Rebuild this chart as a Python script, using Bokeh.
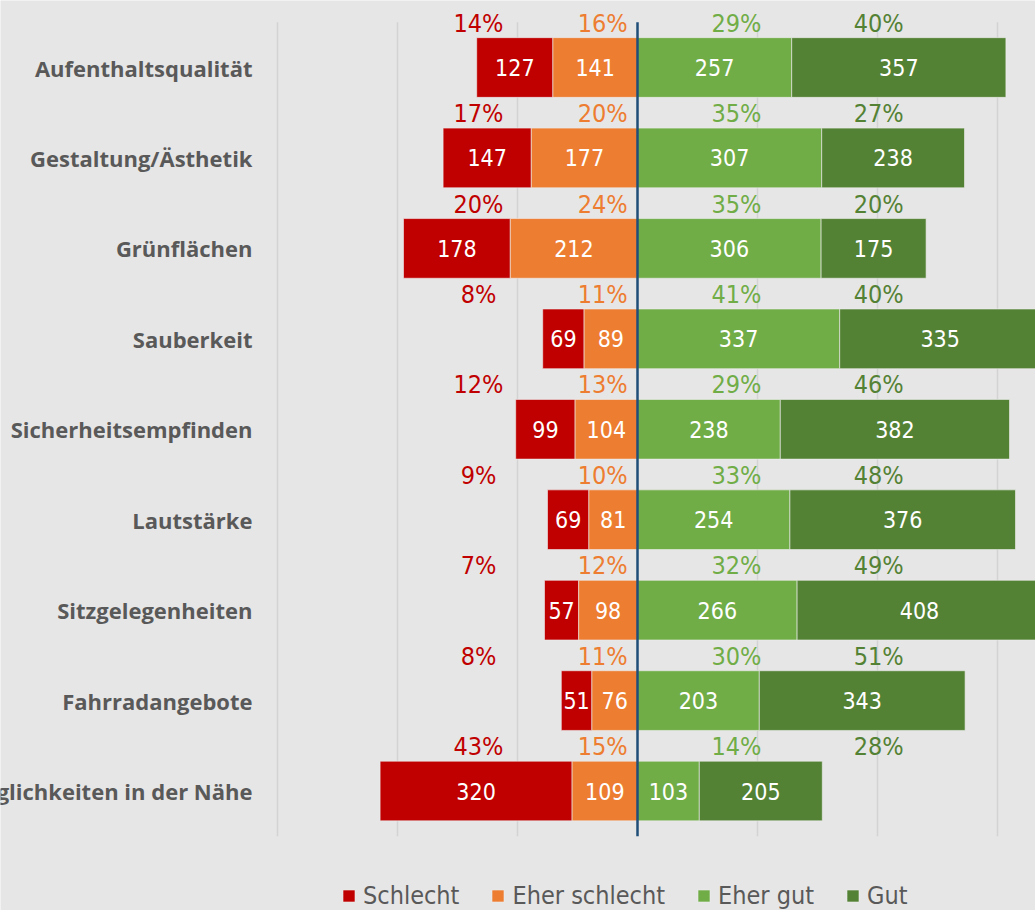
import numpy as np
from bokeh.plotting import figure
from bokeh.models import Range1d, Legend, LegendItem
from bokeh.core.properties import value
from bokeh.embed import file_html
from bokeh.resources import INLINE

categories = ["Aufenthaltsqualität", "Gestaltung/Ästhetik", "Grünflächen", "Sauberkeit",
              "Sicherheitsempfinden", "Lautstärke", "Sitzgelegenheiten", "Fahrradangebote",
              "Einkaufsmöglichkeiten in der Nähe"]
schlecht      = [127, 147, 178, 69, 99, 69, 57, 51, 320]
eher_schlecht = [141, 177, 212, 89, 104, 81, 98, 76, 109]
eher_gut      = [257, 307, 306, 337, 238, 254, 266, 203, 103]
gut           = [357, 238, 175, 335, 382, 376, 408, 343, 205]
pct_schlecht      = [14, 17, 20, 8, 12, 9, 7, 8, 43]
pct_eher_schlecht = [16, 20, 24, 11, 13, 10, 12, 11, 15]
pct_eher_gut      = [29, 35, 35, 41, 29, 33, 32, 30, 14]
pct_gut           = [40, 27, 20, 40, 46, 48, 49, 51, 28]
series_names = ["Schlecht", "Eher schlecht", "Eher gut", "Gut"]
grid_ticks = [-600, -400, -200, 200, 400, 600]

colors = ["#C00000", "#ED7D31", "#70AD47", "#548235"]
NUMFONT_STR = "'DejaVu Sans Condensed', 'Liberation Sans Narrow', Roboto, sans-serif"
NUMFONT = value(NUMFONT_STR)
LABFONT = value("Open Sans")
BG = "#E7E6E6"

n = len(categories)
ys = np.arange(n)
s = np.array(schlecht); es = np.array(eher_schlecht)
eg = np.array(eher_gut); g = np.array(gut)

W, H = 1035, 910
p = figure(width=W, height=H, output_backend="svg", toolbar_location=None,
           x_range=Range1d(-1061.67, 663.33), y_range=Range1d(9.321, -0.741),
           min_border=0, min_border_left=0, min_border_right=0,
           min_border_top=0, min_border_bottom=0)
p.axis.visible = False
p.grid.visible = False
p.outline_line_color = None
p.background_fill_color = BG
p.border_fill_color = BG

# gridlines
p.segment(x0=grid_ticks, x1=grid_ticks, y0=[-0.5] * len(grid_ticks), y1=[n - 0.5] * len(grid_ticks),
          line_color="#D4D3D3", line_width=1.5)

segs = [(-(es + s), -es), (-es, np.zeros(n)), (np.zeros(n), eg), (eg, eg + g)]
vals = [s, es, eg, g]
pcts = [pct_schlecht, pct_eher_schlecht, pct_eher_gut, pct_gut]
pct_x = [-265, -58, 165, 402]
renderers = []
for (l, r), c in zip(segs, colors):
    rr = p.hbar(y=ys, left=l, right=r, height=0.66, fill_color=c, line_color="#EFEFEF",
                line_width=1, line_alpha=0.6)
    renderers.append(rr)

for (l, r), v in zip(segs, vals):
    p.text(x=(l + r) / 2, y=ys, text=[str(x) for x in v], text_align="center",
           text_baseline="middle", text_color="white", text_font=NUMFONT,
           text_font_size="23px")

for px, pc, c in zip(pct_x, pcts, colors):
    p.text(x=[px] * n, y=ys - 0.49, text=[f"{x}%" for x in pc], text_align="center",
           text_baseline="middle", text_color=c, text_font=NUMFONT, text_font_size="25px")

# center line
p.segment(x0=[0], x1=[0], y0=[-0.5], y1=[n - 0.5], line_color="#1F4E79", line_width=2.5)

# category labels
p.text(x=[-641.7] * n, y=ys, text=categories, text_align="right", text_baseline="middle",
       text_color="#595959", text_font=LABFONT, text_font_style="bold", text_font_size="22px")

legend = Legend(items=[LegendItem(label=nm, renderers=[r]) for nm, r in zip(series_names, renderers)],
                orientation="horizontal", location=(341, 0), glyph_width=15, glyph_height=15,
                label_standoff=7, spacing=31, padding=0, margin=0,
                label_text_font=NUMFONT_STR, label_text_font_size="25px", label_text_color="#595959",
                background_fill_alpha=0, border_line_color=None)
p.add_layout(legend)

open("out.html", "w").write(file_html(p, INLINE))
